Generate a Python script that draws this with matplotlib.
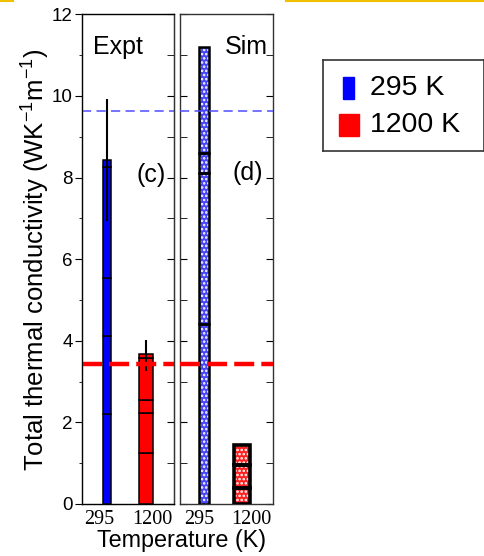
import matplotlib
matplotlib.use("Agg")
import matplotlib.pyplot as plt
from matplotlib.patches import Rectangle
from matplotlib.lines import Line2D
import numpy as np

plt.rcParams['font.family'] = ['Liberation Sans', 'DejaVu Sans']
plt.rcParams['mathtext.fontset'] = 'custom'
plt.rcParams['mathtext.rm'] = 'Liberation Sans'
plt.rcParams['hatch.linewidth'] = 1.2

# data
temps = ['295', '1200']
# stacked segment boundaries (cumulative tops)
expt_295 = [2.20, 4.12, 5.55, 8.27, 8.43]
expt_1200 = [1.26, 2.24, 2.55, 3.57, 3.67]
sim_295 = [4.40, 8.10, 8.60, 11.19]
sim_1200 = [0.40, 0.95, 1.45]
expt_err_center = [8.43, 3.65]
expt_err = [1.49, 0.38]
ref_295 = 9.62
ref_1200 = 3.43

W, H = 485, 556
fig = plt.figure(figsize=(W / 100, H / 100), dpi=100)

ax1 = fig.add_axes([82.3 / W, 52 / H, 91.4 / W, 489.7 / H])
ax2 = fig.add_axes([180.3 / W, 52 / H, 92.4 / W, 489.7 / H])


def stacked(ax, x, tops, width, color, lw, hatch=None):
    bottoms = [0] + tops[:-1]
    heights = np.diff([0] + tops)
    if hatch:
        ax.bar([x] * len(tops), heights, width, bottom=bottoms, color=color,
               edgecolor='white', linewidth=0, hatch=hatch, zorder=2)
        ax.bar([x] * len(tops), heights, width, bottom=bottoms, fill=False,
               edgecolor='black', linewidth=lw, zorder=3)
    else:
        ax.bar([x] * len(tops), heights, width, bottom=bottoms, color=color,
               edgecolor='black', linewidth=lw, zorder=2)


# Expt panel
stacked(ax1, 0, expt_295, 0.22, '#0000ff', 1.1)
stacked(ax1, 1, expt_1200, 0.357, '#ff0000', 1.1)
ax1.errorbar([0, 1], expt_err_center, yerr=expt_err, fmt='none',
             ecolor='black', elinewidth=1.5, zorder=4)

# Sim panel
ax2.bar(0.04, sim_295[-1], 0.263, color='#999999', linewidth=0, zorder=1)
stacked(ax2, 0, sim_295, 0.263, '#4444ff', 1.8, hatch='....')
stacked(ax2, 1, sim_1200, 0.42, '#ff2020', 2.6, hatch='....')

# tick labels sit a little outside the bar centres in the original
label_pos = {ax1: [-0.20, 1.15], ax2: [-0.13, 1.24]}

for ax in (ax1, ax2):
    ax.axhline(ref_295, color='#4d4dff', lw=1.1, dashes=(6, 3.5), zorder=5)
    ax.axhline(ref_1200, color='#ff0000', lw=3.2, dashes=(4.5, 1.6), zorder=5)
    ax.set_ylim(0, 12)
    ax.set_xticks(label_pos[ax])
    ax.set_xticklabels(temps, family='Liberation Serif', fontsize=14.5)
    ax.tick_params(axis='x', length=0, pad=4)
    ax.set_yticks(np.arange(0, 13, 2))
    ax.set_yticks(np.arange(1, 12, 2), minor=True)
    for s in ax.spines.values():
        s.set_color('#333333')
        s.set_linewidth(1.0)

ax1.set_xlim(-0.63, 1.70)
ax2.set_xlim(-0.62, 1.81)

ax1.tick_params(axis='y', which='major', left=True, right=False, direction='out',
                length=5, labelsize=13.5, pad=2)
ax1.tick_params(axis='y', which='minor', left=False, right=False)
# inward ticks on the right side of the Expt panel
ax1r = ax1.twinx()
ax1r.set_ylim(0, 12)
ax1r.set_yticks(np.arange(0, 13, 2))
ax1r.set_yticks(np.arange(1, 12, 2), minor=True)
ax1r.tick_params(axis='y', which='both', direction='in', length=5, labelright=False)
ax1r.spines['right'].set_color('#333333')

ax2.tick_params(axis='y', which='both', left=True, right=True, direction='in',
                length=5, labelleft=False)

ax1.text(0.12, 11.2, 'Expt', fontsize=18, va='center', ha='left',
         transform=ax1.get_yaxis_transform())
ax1.text(0.915, 8.06, '(c)', fontsize=18, va='center', ha='right',
         transform=ax1.get_yaxis_transform())
ax2.text(0.95, 11.2, 'Sim', fontsize=18, va='center', ha='right',
         transform=ax2.get_yaxis_transform())
ax2.text(0.89, 8.1, '(d)', fontsize=18, va='center', ha='right',
         transform=ax2.get_yaxis_transform())

ax1.set_ylabel(r'Total thermal conductivity (WK$^{\mathregular{-1}}$m$^{\mathregular{-1}}$)',
               fontsize=18.5)
ax1.yaxis.set_label_coords(-0.345, 0.5)
fig.text(181.5 / W, (H - 541) / H, 'Temperature (K)', fontsize=16.8,
         ha='center', va='center')

# legend box
lg = fig.add_axes([322.7 / W, (H - 151) / H, 161.3 / W, 91 / H])
lg.set_xlim(0, 161.3)
lg.set_ylim(91, 0)
lg.set_xticks([])
lg.set_yticks([])
for s in lg.spines.values():
    s.set_color('#333333')
    s.set_linewidth(1.2)
lg.add_patch(Rectangle((20.3, 17), 11, 22, color='#0000ff'))
lg.add_patch(Rectangle((16.3, 54), 20, 22, color='#ff0000'))
lg.text(47.3, 28, '295 K', fontsize=20.5, va='center', ha='left')
lg.text(47.3, 65, '1200 K', fontsize=20.5, va='center', ha='left')

# slide decoration lines at the top
fig.add_artist(Line2D([0, 13 / W], [1 - 0.8 / H] * 2, color='#f0c000', lw=1.5))
fig.add_artist(Line2D([286 / W, 1], [1 - 0.8 / H] * 2, color='#f0c000', lw=1.5))

fig.savefig('out.png', dpi=100)
